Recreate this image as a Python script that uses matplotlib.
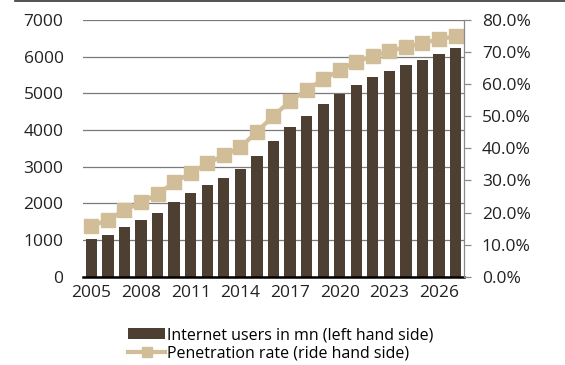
import matplotlib.pyplot as plt
from matplotlib.lines import Line2D
from matplotlib.ticker import PercentFormatter

plt.rcParams['font.family'] = ['Open Sans', 'DejaVu Sans']

# Internet users (mn) and penetration rate (%), 2005-2027
years = list(range(2005, 2028))
users_mn = [1020, 1145, 1355, 1555, 1745, 2035, 2275, 2510, 2700, 2930,
            3300, 3700, 4085, 4390, 4700, 4990, 5235, 5445, 5620, 5780,
            5920, 6080, 6230]
penetration = [15.8, 17.7, 20.7, 23.2, 25.7, 29.4, 32.3, 35.3, 37.8, 40.3,
               45.2, 50.1, 54.7, 58.2, 61.5, 64.4, 67.0, 68.8, 70.4, 71.5,
               72.8, 74.0, 75.0]
tick_years = [2005, 2008, 2011, 2014, 2017, 2020, 2023, 2026]

bar_col = '#4d3f32'
line_col = '#d1bd98'

fig = plt.figure(figsize=(5.65, 3.65), dpi=100)
ax = fig.add_axes([0.147, 0.242, 0.674, 0.703])
ax2 = ax.twinx()

x = list(range(len(years)))
ax.bar(x, users_mn, width=0.68, color=bar_col, zorder=2,
       label='Internet users in mn (left hand side)')
ax2.plot(x, penetration, color=line_col, lw=3, marker='s', ms=9.5,
         label='Penetration rate (ride hand side)')

ax.set_xlim(-0.5, len(years) - 0.5)
ax.set_ylim(0, 7000)
ax.set_yticks(range(0, 7001, 1000))
ax2.set_ylim(0, 80)
ax2.set_yticks(range(0, 81, 10))
ax2.yaxis.set_major_formatter(PercentFormatter(decimals=1))

ax.set_xticks([years.index(y) for y in tick_years])
ax.set_xticklabels([str(y) for y in tick_years])

ax.grid(axis='y', color='#7a7a7a', lw=0.9, zorder=0)
ax.set_axisbelow(True)

for a in (ax, ax2):
    for s in ('top', 'left'):
        a.spines[s].set_visible(False)
ax.spines['right'].set_visible(False)
ax.spines['bottom'].set_color('black')
ax.spines['bottom'].set_linewidth(1.8)
ax2.spines['bottom'].set_visible(False)
ax2.spines['right'].set_color('#8a8a8a')
ax2.spines['right'].set_linewidth(0.9)

ax.tick_params(axis='x', length=0, pad=6, labelsize=12.5, colors='#222222')
ax.tick_params(axis='y', length=0, pad=14, labelsize=12.5, colors='#222222')
ax2.tick_params(axis='y', length=5, width=0.9, color='#8a8a8a', pad=8,
                labelsize=12.5, colors='#222222')
ax2.tick_params(axis='y', colors='#8a8a8a', labelcolor='#222222')

# rule across the top of the figure
fig.add_artist(Line2D([15 / 565, 1], [0.998, 0.998], color='#333333', lw=1.2))

h1, l1 = ax.get_legend_handles_labels()
h2, l2 = ax2.get_legend_handles_labels()
fig.legend(h1 + h2, l1 + l2, loc='upper left', bbox_to_anchor=(0.227, 0.103),
           frameon=False, fontsize=11.5, handlelength=2.3, handletextpad=0.15,
           labelspacing=0.15, borderpad=0, borderaxespad=0, markerscale=0.75)

fig.savefig('out.png', dpi=100)
